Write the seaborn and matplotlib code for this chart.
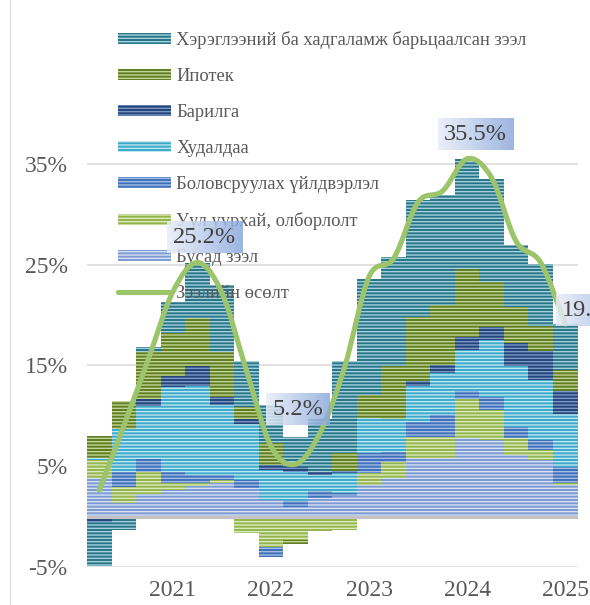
import numpy as np
import pandas as pd
import matplotlib
matplotlib.use("Agg")
import matplotlib.pyplot as plt
import seaborn as sns
from matplotlib.patches import Patch, PathPatch
from matplotlib.lines import Line2D
from matplotlib.path import Path
from matplotlib.colors import LinearSegmentedColormap

# ---------------- data ----------------
quarters = ["2020-Q2", "2020-Q3", "2020-Q4",
            "2021-Q1", "2021-Q2", "2021-Q3", "2021-Q4",
            "2022-Q1", "2022-Q2", "2022-Q3", "2022-Q4",
            "2023-Q1", "2023-Q2", "2023-Q3", "2023-Q4",
            "2024-Q1", "2024-Q2", "2024-Q3", "2024-Q4",
            "2025-Q1"]
year_labels = ["2021", "2022", "2023", "2024", "2025"]
y_ticks = [-5, 5, 15, 25, 35]
y_tick_labels = ["-5%", "5%", "15%", "25%", "35%"]

consumer = [-4.4, -1.3, 0.5, 3.1, 5.5, 6.7, 4.5, 3.8, 3.0, 5.3,
            9.1, 11.5, 10.9, 11.6, 10.9, 10.9, 10.2, 6.1, 6.2, 4.6]
mortgage = [2.2, 2.8, 4.6, 4.3, 4.8, 4.4, 1.2, 2.2, -0.4, 0.0,
            1.8, 2.3, 5.2, 6.3, 6.0, 6.8, 4.5, 3.6, 2.5, 2.0]
construction = [-0.5, 0.0, 0.7, 1.0, 1.9, 0.8, 0.5, 0.5, 0.5, 0.3,
                0.2, 0.0, 0.0, 0.5, 0.8, 1.3, 1.3, 2.3, 2.8, 2.3]
trade = [0.2, 4.3, 5.3, 8.5, 8.9, 7.0, 5.6, 3.0, 2.9, 1.6,
         2.0, 3.5, 3.3, 3.6, 4.1, 4.0, 5.6, 6.0, 6.0, 5.3]
manufacturing = [0.0, 1.5, 1.3, 1.1, 0.8, 0.5, 0.8, -1.0, 0.5, 0.7,
                 0.3, 2.0, 1.0, 1.5, 2.2, 0.8, 1.3, 1.1, 1.0, 1.6]
mining = [1.8, 1.6, 2.2, 0.7, 0.3, 0.3, -1.6, -3.0, -2.3, -1.4,
          -1.3, 1.2, 1.6, 2.1, 2.1, 3.9, 3.0, 1.7, 1.0, 0.2]
other = [3.8, 1.3, 2.2, 2.6, 3.0, 3.3, 2.8, 1.6, 1.0, 1.8,
         2.0, 3.1, 3.8, 5.8, 5.8, 7.8, 7.6, 6.1, 5.6, 3.1]
loan_growth = [2.6, 9.0, 15.6, 22.3, 25.2, 22.2, 14.5, 7.0, 5.2, 8.3,
               14.8, 23.8, 25.6, 31.2, 32.3, 35.5, 33.6, 27.3, 25.2, 19.1]

series_names = ["Хэрэглээний ба хадгаламж барьцаалсан зээл", "Ипотек", "Барилга",
                "Худалдаа", "Боловсруулах үйлдвэрлэл", "Уул уурхай, олборлолт",
                "Бусад зээл"]
line_name = "Зээлийн өсөлт"
labelled_quarters = ["2021-Q2", "2022-Q2", "2024-Q1", "2025-Q1"]

# ---------------- style ----------------
sns.set_style("white")
plt.rcParams["font.family"] = ["Liberation Serif", "DejaVu Serif"]
plt.rcParams["hatch.linewidth"] = 1.0

series_values = {
    series_names[0]: consumer, series_names[1]: mortgage, series_names[2]: construction,
    series_names[3]: trade, series_names[4]: manufacturing, series_names[5]: mining,
    series_names[6]: other,
}
# face (dark stripe) / hatch (light stripe)
styles = {
    series_names[0]: ("#2a7488", "#a3d2dc"),
    series_names[1]: ("#5f7d22", "#c3d596"),
    series_names[2]: ("#23457a", "#7b98c6"),
    series_names[3]: ("#3ea8c8", "#bde7f2"),
    series_names[4]: ("#3f70b8", "#a3bde5"),
    series_names[5]: ("#93b54d", "#dcebbd"),
    series_names[6]: ("#7d9bd2", "#d4e0f4"),
}
LINE_C = "#9cc46a"
HATCH = "-----"
TXT = "#595959"

fig = plt.figure(figsize=(5.9, 6.05), dpi=100)
ax = fig.add_axes([87 / 590, 1 - 567 / 605, 490.5 / 590, (567 - 113.4) / 605])

n = len(quarters)
pos_base = np.zeros(n)
neg_base = np.zeros(n)
for name in series_names[::-1]:          # bottom of the stack first
    vals = np.asarray(series_values[name], dtype=float)
    bottoms = np.where(vals >= 0, pos_base, neg_base)
    fc, hc = styles[name]
    sns.barplot(x=quarters, y=vals, order=quarters, bottom=bottoms, ax=ax,
                width=1.0, color=fc, saturation=1, errorbar=None,
                edgecolor=hc, linewidth=0, hatch=HATCH, zorder=2)
    pos_base += np.where(vals > 0, vals, 0)
    neg_base += np.where(vals < 0, vals, 0)

# smoothed growth line (Bezier through the data points, like a spreadsheet "smooth line")
px = np.arange(n, dtype=float)
py = np.asarray(loan_growth, dtype=float)
verts = [(px[0], py[0])]
codes = [Path.MOVETO]
for i in range(n - 1):
    i0 = max(i - 1, 0)
    i3 = min(i + 2, n - 1)
    c1 = (px[i] + (px[i + 1] - px[i0]) / 6, py[i] + (py[i + 1] - py[i0]) / 6)
    c2 = (px[i + 1] - (px[i3] - px[i]) / 6, py[i + 1] - (py[i3] - py[i]) / 6)
    verts += [c1, c2, (px[i + 1], py[i + 1])]
    codes += [Path.CURVE4] * 3
ax.add_patch(PathPatch(Path(verts, codes), fill=False, edgecolor=LINE_C, lw=3.7,
                       capstyle="round", joinstyle="round", zorder=3))

ax.axhline(0, color="#c3c3c3", lw=2.2, zorder=2.6)

# axes cosmetics
ax.set_xlim(-0.5, n - 0.5)
ax.set_ylim(-5, 40)
ax.set_yticks(y_ticks)
ax.set_yticklabels(y_tick_labels)
ax.set_xticks([quarters.index(f"{y}-Q1") for y in year_labels])
ax.set_xticklabels(year_labels)
ax.set_xlabel("")
ax.set_ylabel("")
ax.tick_params(axis="both", length=0, labelsize=17, colors=TXT)
ax.tick_params(axis="y", pad=14)
ax.tick_params(axis="x", pad=9)
ax.yaxis.grid(True, color="#d9d9d9", lw=1.1)
ax.xaxis.grid(False)
ax.set_axisbelow(True)
for s in ax.spines.values():
    s.set_visible(False)

# legend
handles = [Patch(facecolor=styles[nm][0], edgecolor=styles[nm][1], hatch=HATCH, linewidth=0)
           for nm in series_names]
handles.append(Line2D([], [], color=LINE_C, lw=3.7, solid_capstyle="round"))
leg = ax.legend(handles, series_names + [line_name], loc="upper left",
                bbox_to_anchor=(118 / 590, 1 - 31 / 605), bbox_transform=fig.transFigure,
                frameon=False, fontsize=13.3, labelcolor=TXT, handlelength=2.85,
                handleheight=0.55, handletextpad=0.3, labelspacing=1.03,
                borderpad=0, borderaxespad=0)
leg.set_zorder(2.5)

# data labels with gradient boxes
label_offsets = {"2021-Q2": (7, 25), "2022-Q2": (2, 55), "2024-Q1": (8, 24), "2025-Q1": (28, 14)}
anns = []
for q in labelled_quarters:
    i = quarters.index(q)
    dx, dy = label_offsets[q]
    a = ax.annotate(f"{loan_growth[i]:.1f}%", xy=(i, loan_growth[i]), xytext=(dx, dy),
                    textcoords="offset pixels", ha="center", va="center", fontsize=17.5,
                    color="#404040", zorder=6, annotation_clip=False,
                    bbox=dict(boxstyle="square,pad=0.25", fc="none", ec="none"))
    anns.append(a)

fig.canvas.draw()
renderer = fig.canvas.get_renderer()
cmap = LinearSegmentedColormap.from_list("lbl", ["#e9eef8", "#8ba8dc"])
grad = np.linspace(0, 1, 256).reshape(1, -1)
inv = ax.transData.inverted()
for a in anns:
    bb = a.get_bbox_patch().get_window_extent(renderer)
    shrink = 1  # pixels trimmed from top and bottom of the box
    (x0, y0), (x1, y1) = inv.transform([[bb.x0, bb.y0 + shrink], [bb.x1, bb.y1 - shrink]])
    im = ax.imshow(grad, extent=[x0, x1, y0, y1], aspect="auto", cmap=cmap,
                   origin="lower", zorder=5, alpha=0.85, interpolation="bilinear")
    im.set_clip_on(False)
ax.set_xlim(-0.5, n - 0.5)
ax.set_ylim(-5, 40)

fig.add_artist(Line2D([10 / 590, 10 / 590], [0, 1], transform=fig.transFigure,
                      color="#e0e0e0", lw=1))

fig.savefig("out.png", dpi=100)
